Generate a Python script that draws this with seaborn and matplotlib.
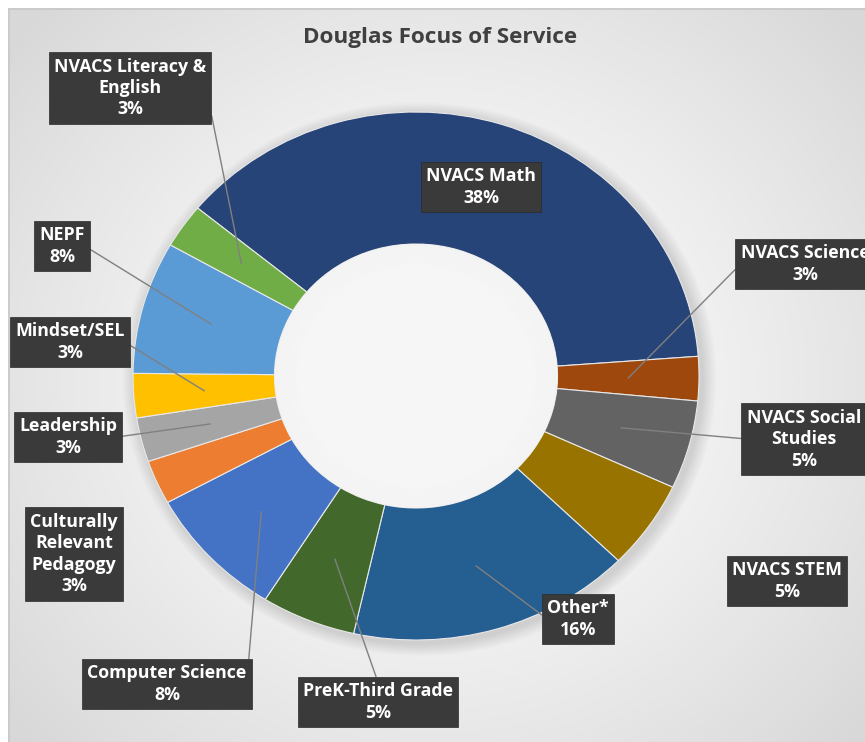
import numpy as np
import pandas as pd
import seaborn as sns
import matplotlib
matplotlib.use("Agg")
import matplotlib.pyplot as plt
from matplotlib.patches import Wedge

# ---------------- data ----------------
categories = ["NVACS Math", "NVACS Science", "NVACS Social\nStudies", "NVACS STEM",
              "Other*", "PreK-Third Grade", "Computer Science",
              "Culturally\nRelevant\nPedagogy", "Leadership", "Mindset/SEL",
              "NEPF", "NVACS Literacy &\nEnglish"]
counts = [14, 1, 2, 2, 6, 2, 3, 1, 1, 1, 3, 1]
colors = ["#264478", "#9E480E", "#636363", "#997300", "#255E91", "#43682B",
          "#4472C4", "#ED7D31", "#A5A5A5", "#FFC000", "#5B9BD5", "#70AD47"]
title = "Douglas Focus of Service"

# label layout: box centre in pixels (x, y from top), leader-line attach side
label_pos = [(481, 187), (805, 264), (804, 439), (787, 581), (578, 619), (378, 702),
             (167, 684), (74, 554), (68, 437), (70, 342), (62, 246), (130, 88)]
leader = [None, (0, 0.5), (0, 0.5), None, (0, 0.5), (0.5, 1), (1, 0.5),
          None, (1, 0.5), (1, 0.5), (1, 0.5), (1, 0.5)]

df = pd.DataFrame({"category": categories, "count": counts, "color": colors})
df["pct"] = df["count"] / df["count"].sum() * 100

# ---------------- figure ----------------
sns.set_theme(style="white")
plt.rcParams["font.family"] = ["Open Sans", "DejaVu Sans"]

W, H = 865, 742
fig = plt.figure(figsize=(W / 100, H / 100), dpi=100)
fig.patch.set_facecolor("white")

# background with radial gradient (chart area)
bg = fig.add_axes([0, 0, 1, 1], zorder=0)
bg.set_xlim(0, W)
bg.set_ylim(H, 0)
bg.axis("off")
yy, xx = np.mgrid[0:H, 0:W]
cx, cy = 440, 380
d = np.sqrt(((xx - cx) / 560.0) ** 2 + ((yy - cy) / 520.0) ** 2)
d = np.clip(d, 0, 1)
v = 1.0 - 0.15 * d ** 1.3
img = np.dstack([v, v, v])
img[:8, :, :] = 1.0
img[:, :8, :] = 1.0
bg.imshow(img, extent=(0, W, H, 0), interpolation="bilinear", aspect="auto")
bg.plot([8.5, 8.5], [8.5, H], color="#c8c8c8", lw=1.2)
bg.plot([8.5, W], [8.5, 8.5], color="#c8c8c8", lw=1.2)

# pie axes: data unit = outer radius, ellipse mapping
cxp, cyp, rx, ry = 416, 376, 283, 264
ax = fig.add_axes([0, 0, 1, 1], zorder=1)
ax.patch.set_alpha(0)

# soft shadow around donut
for i in range(8):
    r = 1.0 + 0.006 * (i + 1)
    ax.add_patch(Wedge((0.012, -0.012), r, 0, 360, width=r - 0.5 + 0.01,
                       facecolor="black", alpha=0.015, lw=0, zorder=0))

wedges, _ = ax.pie(df["count"], colors=df["color"], startangle=140.5,
                   counterclock=False, radius=1.0,
                   wedgeprops=dict(width=0.5, edgecolor="#e8e8e8", linewidth=0.8))
# inner hole: light fill with soft shading toward the rim
ax.add_patch(Wedge((0, 0), 0.5, 0, 360, facecolor="#f6f6f6", lw=0, zorder=2))
for i in range(10):
    r = 0.5 - 0.008 * i
    ax.add_patch(Wedge((0, 0), r, 0, 360, width=0.008,
                       facecolor="#b0b0b0", alpha=0.03 * (10 - i) / 10, lw=0, zorder=3))

ax.set_aspect("auto")
ax.set_xlim(-cxp / rx, (W - cxp) / rx)
ax.set_ylim(-(H - cyp) / ry, cyp / ry)
ax.axis("off")

# labels
for w, (_, row), (px, py), rel in zip(wedges, df.iterrows(), label_pos, leader):
    txt = f"{row['category']}\n{row['pct']:.0f}%"
    xy_fig = (px / W, 1 - py / H)
    mid = np.deg2rad((w.theta1 + w.theta2) / 2)
    anchor = (0.75 * np.cos(mid), 0.75 * np.sin(mid))
    bbox = dict(boxstyle="square,pad=0.3", fc="#3a3a3a", ec="#2a2a2a", lw=0.5)
    kw = dict(ha="center", va="center", color="white", fontsize=12.8,
              fontweight="bold", linespacing=1.25, bbox=bbox, zorder=6)
    if rel is None:
        ax.text(*xy_fig, txt, transform=fig.transFigure, **kw)
    else:
        ax.annotate(txt, xy=anchor, xycoords="data", xytext=xy_fig,
                    textcoords="figure fraction",
                    arrowprops=dict(arrowstyle="-", color="#808080", lw=1.0,
                                    shrinkA=0, shrinkB=0, relpos=rel), **kw)

fig.text(440 / W, 1 - 37 / H, title, ha="center", va="center", fontsize=16.2,
         fontweight="bold", color="#404040")

fig.savefig("out.png", dpi=100)
